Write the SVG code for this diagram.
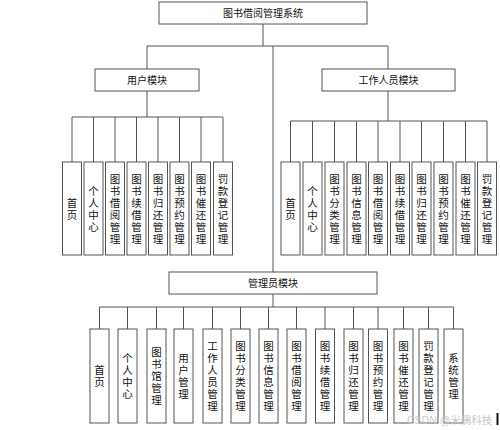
<svg xmlns="http://www.w3.org/2000/svg" width="500" height="430" viewBox="0 0 500 430">
<style>
.box{fill:#fff;stroke:#555;stroke-width:1}
.ln{stroke:#555;stroke-width:1;fill:none}
.t{font-family:"Noto Sans CJK SC","Noto Sans",sans-serif;font-size:10px;fill:#111;text-anchor:middle}
.v{font-family:"Noto Sans CJK SC","Noto Sans",sans-serif;font-size:10.5px;fill:#111;text-anchor:middle}
.wm{font-family:"Liberation Sans","Noto Sans CJK SC",sans-serif;font-size:10.5px;fill:#c8c8c8}
</style>
<rect width="500" height="430" fill="#fff"/>
<g id="connectors">
<path class="ln" d="M263 24V46M147 46H388M147 46V69M388 46V69M273 46V272M147 91V117M72 117H223M388 91V121M290.5 121H487M273 294V307M99.5 307H453.5"/>
<path class="ln" d="M72 117V162M93.5 117V162M115 117V162M136.5 117V162M158 117V162M179.5 117V162M201 117V162M223 117V162"/>
<path class="ln" d="M290.5 121V162M312.5 121V162M334.5 121V162M356.5 121V162M378 121V162M400 121V162M421.5 121V162M443.5 121V162M465.5 121V162M487 121V162"/>
<path class="ln" d="M99.5 307V329M127.5 307V329M156.5 307V329M183.5 307V329M212.5 307V329M240.5 307V329M268.5 307V329M296.5 307V329M325 307V329M353.5 307V329M378 307V329M403.5 307V329M428.5 307V329M453.5 307V329"/>
</g>
<g id="root"><rect class="box" x="159" y="2" width="208" height="22"/><text class="t" x="263" y="16.5">图书借阅管理系统</text></g>
<g id="user"><rect class="box" x="95" y="69" width="104" height="22"/><text class="t" x="147" y="83.5">用户模块</text></g>
<g id="staff"><rect class="box" x="322" y="69" width="133" height="22"/><text class="t" x="388.5" y="83.5">工作人员模块</text></g>
<g id="admin"><rect class="box" x="169" y="272" width="208" height="22"/><text class="t" x="273" y="286.5">管理员模块</text></g>

<g id="u1"><rect class="box" x="62.5" y="162" width="19" height="93"/><text class="v"><tspan x="72" y="206.5">首</tspan><tspan x="72" dy="12">页</tspan></text></g>
<g id="u2"><rect class="box" x="84" y="162" width="19" height="93"/><text class="v"><tspan x="93.5" y="194.5">个</tspan><tspan x="93.5" dy="12">人</tspan><tspan x="93.5" dy="12">中</tspan><tspan x="93.5" dy="12">心</tspan></text></g>
<g id="u3"><rect class="box" x="105.5" y="162" width="19" height="93"/><text class="v"><tspan x="115" y="182.5">图</tspan><tspan x="115" dy="12">书</tspan><tspan x="115" dy="12">借</tspan><tspan x="115" dy="12">阅</tspan><tspan x="115" dy="12">管</tspan><tspan x="115" dy="12">理</tspan></text></g>
<g id="u4"><rect class="box" x="127" y="162" width="19" height="93"/><text class="v"><tspan x="136.5" y="182.5">图</tspan><tspan x="136.5" dy="12">书</tspan><tspan x="136.5" dy="12">续</tspan><tspan x="136.5" dy="12">借</tspan><tspan x="136.5" dy="12">管</tspan><tspan x="136.5" dy="12">理</tspan></text></g>
<g id="u5"><rect class="box" x="148.5" y="162" width="19" height="93"/><text class="v"><tspan x="158" y="182.5">图</tspan><tspan x="158" dy="12">书</tspan><tspan x="158" dy="12">归</tspan><tspan x="158" dy="12">还</tspan><tspan x="158" dy="12">管</tspan><tspan x="158" dy="12">理</tspan></text></g>
<g id="u6"><rect class="box" x="170" y="162" width="19" height="93"/><text class="v"><tspan x="179.5" y="182.5">图</tspan><tspan x="179.5" dy="12">书</tspan><tspan x="179.5" dy="12">预</tspan><tspan x="179.5" dy="12">约</tspan><tspan x="179.5" dy="12">管</tspan><tspan x="179.5" dy="12">理</tspan></text></g>
<g id="u7"><rect class="box" x="191.5" y="162" width="19" height="93"/><text class="v"><tspan x="201" y="182.5">图</tspan><tspan x="201" dy="12">书</tspan><tspan x="201" dy="12">催</tspan><tspan x="201" dy="12">还</tspan><tspan x="201" dy="12">管</tspan><tspan x="201" dy="12">理</tspan></text></g>
<g id="u8"><rect class="box" x="213.5" y="162" width="19" height="93"/><text class="v"><tspan x="223" y="182.5">罚</tspan><tspan x="223" dy="12">款</tspan><tspan x="223" dy="12">登</tspan><tspan x="223" dy="12">记</tspan><tspan x="223" dy="12">管</tspan><tspan x="223" dy="12">理</tspan></text></g>

<g id="s1"><rect class="box" x="281" y="162" width="19" height="93"/><text class="v"><tspan x="290.5" y="206.5">首</tspan><tspan x="290.5" dy="12">页</tspan></text></g>
<g id="s2"><rect class="box" x="303" y="162" width="19" height="93"/><text class="v"><tspan x="312.5" y="194.5">个</tspan><tspan x="312.5" dy="12">人</tspan><tspan x="312.5" dy="12">中</tspan><tspan x="312.5" dy="12">心</tspan></text></g>
<g id="s3"><rect class="box" x="325" y="162" width="19" height="93"/><text class="v"><tspan x="334.5" y="182.5">图</tspan><tspan x="334.5" dy="12">书</tspan><tspan x="334.5" dy="12">分</tspan><tspan x="334.5" dy="12">类</tspan><tspan x="334.5" dy="12">管</tspan><tspan x="334.5" dy="12">理</tspan></text></g>
<g id="s4"><rect class="box" x="347" y="162" width="19" height="93"/><text class="v"><tspan x="356.5" y="182.5">图</tspan><tspan x="356.5" dy="12">书</tspan><tspan x="356.5" dy="12">信</tspan><tspan x="356.5" dy="12">息</tspan><tspan x="356.5" dy="12">管</tspan><tspan x="356.5" dy="12">理</tspan></text></g>
<g id="s5"><rect class="box" x="368.5" y="162" width="19" height="93"/><text class="v"><tspan x="378" y="182.5">图</tspan><tspan x="378" dy="12">书</tspan><tspan x="378" dy="12">借</tspan><tspan x="378" dy="12">阅</tspan><tspan x="378" dy="12">管</tspan><tspan x="378" dy="12">理</tspan></text></g>
<g id="s6"><rect class="box" x="390.5" y="162" width="19" height="93"/><text class="v"><tspan x="400" y="182.5">图</tspan><tspan x="400" dy="12">书</tspan><tspan x="400" dy="12">续</tspan><tspan x="400" dy="12">借</tspan><tspan x="400" dy="12">管</tspan><tspan x="400" dy="12">理</tspan></text></g>
<g id="s7"><rect class="box" x="412" y="162" width="19" height="93"/><text class="v"><tspan x="421.5" y="182.5">图</tspan><tspan x="421.5" dy="12">书</tspan><tspan x="421.5" dy="12">归</tspan><tspan x="421.5" dy="12">还</tspan><tspan x="421.5" dy="12">管</tspan><tspan x="421.5" dy="12">理</tspan></text></g>
<g id="s8"><rect class="box" x="434" y="162" width="19" height="93"/><text class="v"><tspan x="443.5" y="182.5">图</tspan><tspan x="443.5" dy="12">书</tspan><tspan x="443.5" dy="12">预</tspan><tspan x="443.5" dy="12">约</tspan><tspan x="443.5" dy="12">管</tspan><tspan x="443.5" dy="12">理</tspan></text></g>
<g id="s9"><rect class="box" x="456" y="162" width="19" height="93"/><text class="v"><tspan x="465.5" y="182.5">图</tspan><tspan x="465.5" dy="12">书</tspan><tspan x="465.5" dy="12">催</tspan><tspan x="465.5" dy="12">还</tspan><tspan x="465.5" dy="12">管</tspan><tspan x="465.5" dy="12">理</tspan></text></g>
<g id="s10"><rect class="box" x="477.5" y="162" width="19" height="93"/><text class="v"><tspan x="487" y="182.5">罚</tspan><tspan x="487" dy="12">款</tspan><tspan x="487" dy="12">登</tspan><tspan x="487" dy="12">记</tspan><tspan x="487" dy="12">管</tspan><tspan x="487" dy="12">理</tspan></text></g>

<g id="a1"><rect class="box" x="90" y="329" width="19" height="94"/><text class="v"><tspan x="99.5" y="374">首</tspan><tspan x="99.5" dy="12">页</tspan></text></g>
<g id="a2"><rect class="box" x="118" y="329" width="19" height="94"/><text class="v"><tspan x="127.5" y="362">个</tspan><tspan x="127.5" dy="12">人</tspan><tspan x="127.5" dy="12">中</tspan><tspan x="127.5" dy="12">心</tspan></text></g>
<g id="a3"><rect class="box" x="147" y="329" width="19" height="94"/><text class="v"><tspan x="156.5" y="356">图</tspan><tspan x="156.5" dy="12">书</tspan><tspan x="156.5" dy="12">馆</tspan><tspan x="156.5" dy="12">管</tspan><tspan x="156.5" dy="12">理</tspan></text></g>
<g id="a4"><rect class="box" x="174" y="329" width="19" height="94"/><text class="v"><tspan x="183.5" y="362">用</tspan><tspan x="183.5" dy="12">户</tspan><tspan x="183.5" dy="12">管</tspan><tspan x="183.5" dy="12">理</tspan></text></g>
<g id="a5"><rect class="box" x="203" y="329" width="19" height="94"/><text class="v"><tspan x="212.5" y="350">工</tspan><tspan x="212.5" dy="12">作</tspan><tspan x="212.5" dy="12">人</tspan><tspan x="212.5" dy="12">员</tspan><tspan x="212.5" dy="12">管</tspan><tspan x="212.5" dy="12">理</tspan></text></g>
<g id="a6"><rect class="box" x="231" y="329" width="19" height="94"/><text class="v"><tspan x="240.5" y="350">图</tspan><tspan x="240.5" dy="12">书</tspan><tspan x="240.5" dy="12">分</tspan><tspan x="240.5" dy="12">类</tspan><tspan x="240.5" dy="12">管</tspan><tspan x="240.5" dy="12">理</tspan></text></g>
<g id="a7"><rect class="box" x="259" y="329" width="19" height="94"/><text class="v"><tspan x="268.5" y="350">图</tspan><tspan x="268.5" dy="12">书</tspan><tspan x="268.5" dy="12">信</tspan><tspan x="268.5" dy="12">息</tspan><tspan x="268.5" dy="12">管</tspan><tspan x="268.5" dy="12">理</tspan></text></g>
<g id="a8"><rect class="box" x="287" y="329" width="19" height="94"/><text class="v"><tspan x="296.5" y="350">图</tspan><tspan x="296.5" dy="12">书</tspan><tspan x="296.5" dy="12">借</tspan><tspan x="296.5" dy="12">阅</tspan><tspan x="296.5" dy="12">管</tspan><tspan x="296.5" dy="12">理</tspan></text></g>
<g id="a9"><rect class="box" x="315.5" y="329" width="19" height="94"/><text class="v"><tspan x="325" y="350">图</tspan><tspan x="325" dy="12">书</tspan><tspan x="325" dy="12">续</tspan><tspan x="325" dy="12">借</tspan><tspan x="325" dy="12">管</tspan><tspan x="325" dy="12">理</tspan></text></g>
<g id="a10"><rect class="box" x="344" y="329" width="19" height="94"/><text class="v"><tspan x="353.5" y="350">图</tspan><tspan x="353.5" dy="12">书</tspan><tspan x="353.5" dy="12">归</tspan><tspan x="353.5" dy="12">还</tspan><tspan x="353.5" dy="12">管</tspan><tspan x="353.5" dy="12">理</tspan></text></g>
<g id="a11"><rect class="box" x="368.5" y="329" width="19" height="94"/><text class="v"><tspan x="378" y="350">图</tspan><tspan x="378" dy="12">书</tspan><tspan x="378" dy="12">预</tspan><tspan x="378" dy="12">约</tspan><tspan x="378" dy="12">管</tspan><tspan x="378" dy="12">理</tspan></text></g>
<g id="a12"><rect class="box" x="394" y="329" width="19" height="94"/><text class="v"><tspan x="403.5" y="350">图</tspan><tspan x="403.5" dy="12">书</tspan><tspan x="403.5" dy="12">催</tspan><tspan x="403.5" dy="12">还</tspan><tspan x="403.5" dy="12">管</tspan><tspan x="403.5" dy="12">理</tspan></text></g>
<g id="a13"><rect class="box" x="419" y="329" width="19" height="94"/><text class="v"><tspan x="428.5" y="350">罚</tspan><tspan x="428.5" dy="12">款</tspan><tspan x="428.5" dy="12">登</tspan><tspan x="428.5" dy="12">记</tspan><tspan x="428.5" dy="12">管</tspan><tspan x="428.5" dy="12">理</tspan></text></g>
<g id="a14"><rect class="box" x="444" y="329" width="19" height="94"/><text class="v"><tspan x="453.5" y="362">系</tspan><tspan x="453.5" dy="12">统</tspan><tspan x="453.5" dy="12">管</tspan><tspan x="453.5" dy="12">理</tspan></text></g>

<text class="wm" x="407" y="424">CSDN @米偶科技</text>
<rect x="496.5" y="413" width="2" height="12" fill="#111"/>
</svg>
